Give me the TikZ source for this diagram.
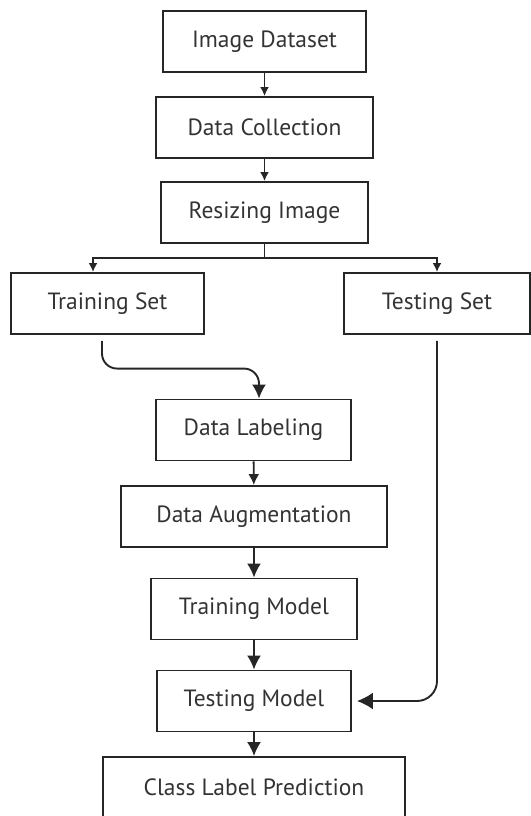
\documentclass[tikz,border=0pt]{standalone}
\usepackage{fontspec}
\setmainfont{PT Sans}
\usetikzlibrary{arrows.meta}

\begin{document}
\begin{tikzpicture}[x=1pt,y=-1pt,
  stage/.style={draw=black!85, line width=1.9pt, minimum height=61pt, inner sep=0pt,
    text=black!80, font=\fontsize{23.5}{28}\selectfont},
  flow/.style={draw=black!85, line width=1.9pt, -{Latex[length=9pt,width=9pt]}},
  bigflow/.style={draw=black!85, line width=1.9pt, -{Latex[length=14pt,width=14pt]}}]
\useasboundingbox (0,0) rectangle (530,816);
\node[stage, minimum width=203pt] (dataset)    at (264.5,41.5) {Image Dataset};
\node[stage, minimum width=217pt] (collection) at (264.5,127.5) {Data Collection};
\node[stage, minimum width=207pt] (resizing)   at (264.5,212.5) {Resizing Image};
\node[stage, minimum width=193pt] (trainset)   at (107.5,303.5) {Training Set};
\node[stage, minimum width=186pt] (testset)    at (437,303.5) {Testing Set};
\node[stage, minimum width=195pt] (labeling)   at (253.5,430) {Data Labeling};
\node[stage, minimum width=266pt] (augment)    at (254,516.5) {Data Augmentation};
\node[stage, minimum width=206pt] (trainmodel) at (254,609) {Training Model};
\node[stage, minimum width=194pt] (testmodel)  at (254,701) {Testing Model};
\node[stage, minimum width=302pt] (predict)    at (254,787.5) {Class Label Prediction};

\draw[flow] (dataset) -- (collection);
\draw[flow] (collection) -- (resizing);
\draw[flow] (resizing.south) -- ++(0,14) -| ([xshift=-14.5pt]trainset.north);
\draw[flow] (resizing.south) -- ++(0,14) -| (testset.north);
\draw[bigflow, rounded corners=15pt]
  ([xshift=-5.5pt,yshift=-6pt]trainset.south)
  |- ([xshift=5.5pt,yshift=30pt]labeling.north)
  -- ([xshift=5.5pt]labeling.north);
\draw[bigflow, -{Latex[length=11pt,width=11pt]}] (labeling) -- (augment);
\draw[bigflow] (augment) -- (trainmodel);
\draw[bigflow] (trainmodel) -- (testmodel);
\draw[bigflow] (testmodel) -- (predict);
\draw[bigflow, -{Latex[length=16pt,width=17pt]}, rounded corners=20pt]
  ([yshift=-6pt]testset.south) |- ([xshift=5pt]testmodel.east);
\end{tikzpicture}
\end{document}
